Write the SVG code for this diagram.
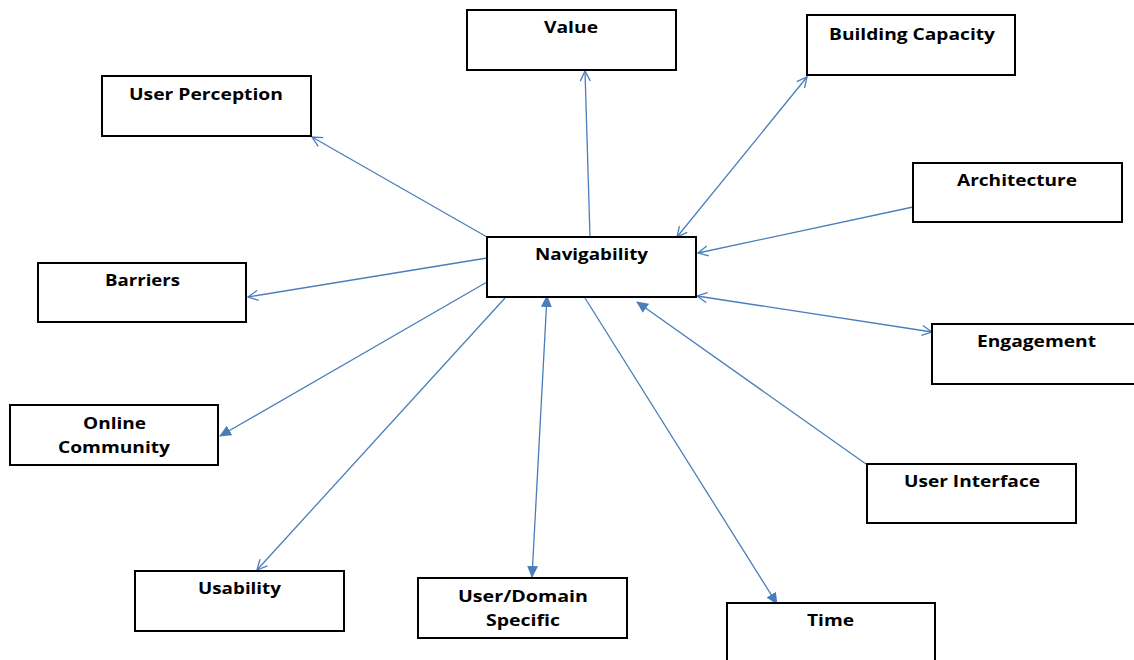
<svg xmlns="http://www.w3.org/2000/svg" width="1134" height="660" viewBox="0 0 1134 660">
<style>
.box{fill:#fff;stroke:#000;stroke-width:2}
.lbl{font-family:"Open Sans","Liberation Sans",sans-serif;font-weight:bold;font-size:15.5px;fill:#000;text-anchor:middle}
.c{stroke:#4a7ebb;stroke-width:1.3;fill:none}
</style>
<defs>
<marker id="open" viewBox="0 0 12 12" refX="11" refY="6" markerWidth="12" markerHeight="12" markerUnits="userSpaceOnUse" orient="auto-start-reverse">
<path d="M1,1 L11,6 L1,11" fill="none" stroke="#4a7ebb" stroke-width="1.3"/>
</marker>
<marker id="fill" viewBox="0 0 12 12" refX="11" refY="6" markerWidth="12" markerHeight="12" markerUnits="userSpaceOnUse" orient="auto-start-reverse">
<path d="M0,0.5 L12,6 L0,11.5 Z" fill="#4a7ebb"/>
</marker>
</defs>
<rect width="1134" height="660" fill="#fff"/>
<g id="connectors">
<line class="c" x1="590" y1="237" x2="585" y2="71" marker-end="url(#open)"/>
<line class="c" x1="677" y1="237" x2="807" y2="77" marker-start="url(#open)" marker-end="url(#open)"/>
<line class="c" x1="913" y1="207" x2="698" y2="253" marker-end="url(#open)"/>
<line class="c" x1="697" y1="296" x2="932" y2="332" marker-start="url(#open)" marker-end="url(#open)"/>
<line class="c" x1="866" y1="464" x2="637" y2="302" marker-end="url(#fill)"/>
<line class="c" x1="585" y1="298" x2="777" y2="604" marker-end="url(#fill)"/>
<line class="c" x1="547" y1="296" x2="532" y2="577" marker-start="url(#fill)" marker-end="url(#fill)"/>
<line class="c" x1="505" y1="298" x2="257" y2="570" marker-end="url(#open)"/>
<line class="c" x1="487" y1="282" x2="220" y2="436" marker-end="url(#fill)"/>
<line class="c" x1="487" y1="258" x2="248" y2="297" marker-end="url(#open)"/>
<line class="c" x1="487" y1="237" x2="312" y2="137" marker-end="url(#open)"/>
</g>
<g id="value"><rect class="box" x="467" y="10" width="209" height="60"/><text class="lbl" x="571" y="33" textLength="54" lengthAdjust="spacingAndGlyphs">Value</text></g>
<g id="building-capacity"><rect class="box" x="807" y="15" width="208" height="60"/><text class="lbl" x="912" y="40" textLength="166" lengthAdjust="spacingAndGlyphs">Building Capacity</text></g>
<g id="user-perception"><rect class="box" x="102" y="76" width="209" height="60"/><text class="lbl" x="206" y="100" textLength="154" lengthAdjust="spacingAndGlyphs">User Perception</text></g>
<g id="architecture"><rect class="box" x="913" y="163" width="209" height="59"/><text class="lbl" x="1017" y="186" textLength="120" lengthAdjust="spacingAndGlyphs">Architecture</text></g>
<g id="navigability"><rect class="box" x="487" y="237" width="209" height="60"/><text class="lbl" x="591.5" y="260" textLength="113" lengthAdjust="spacingAndGlyphs">Navigability</text></g>
<g id="barriers"><rect class="box" x="38" y="263" width="208" height="59"/><text class="lbl" x="142.5" y="286" textLength="75" lengthAdjust="spacingAndGlyphs">Barriers</text></g>
<g id="engagement"><rect class="box" x="932" y="324" width="210" height="60"/><text class="lbl" x="1036.5" y="347" textLength="119" lengthAdjust="spacingAndGlyphs">Engagement</text></g>
<g id="online-community"><rect class="box" x="10" y="405" width="208" height="60"/><text class="lbl" x="114.5" y="429" textLength="63" lengthAdjust="spacingAndGlyphs">Online</text><text class="lbl" x="114" y="453" textLength="112" lengthAdjust="spacingAndGlyphs">Community</text></g>
<g id="user-interface"><rect class="box" x="867" y="464" width="209" height="59"/><text class="lbl" x="972" y="487" textLength="136" lengthAdjust="spacingAndGlyphs">User Interface</text></g>
<g id="usability"><rect class="box" x="135" y="571" width="209" height="60"/><text class="lbl" x="239.5" y="594" textLength="83" lengthAdjust="spacingAndGlyphs">Usability</text></g>
<g id="user-domain-specific"><rect class="box" x="418" y="578" width="209" height="60"/><text class="lbl" x="523" y="602" textLength="130" lengthAdjust="spacingAndGlyphs">User/Domain</text><text class="lbl" x="523" y="626" textLength="74" lengthAdjust="spacingAndGlyphs">Specific</text></g>
<g id="time"><rect class="box" x="727" y="603" width="208" height="62"/><text class="lbl" x="830.5" y="626" textLength="47" lengthAdjust="spacingAndGlyphs">Time</text></g>
</svg>
